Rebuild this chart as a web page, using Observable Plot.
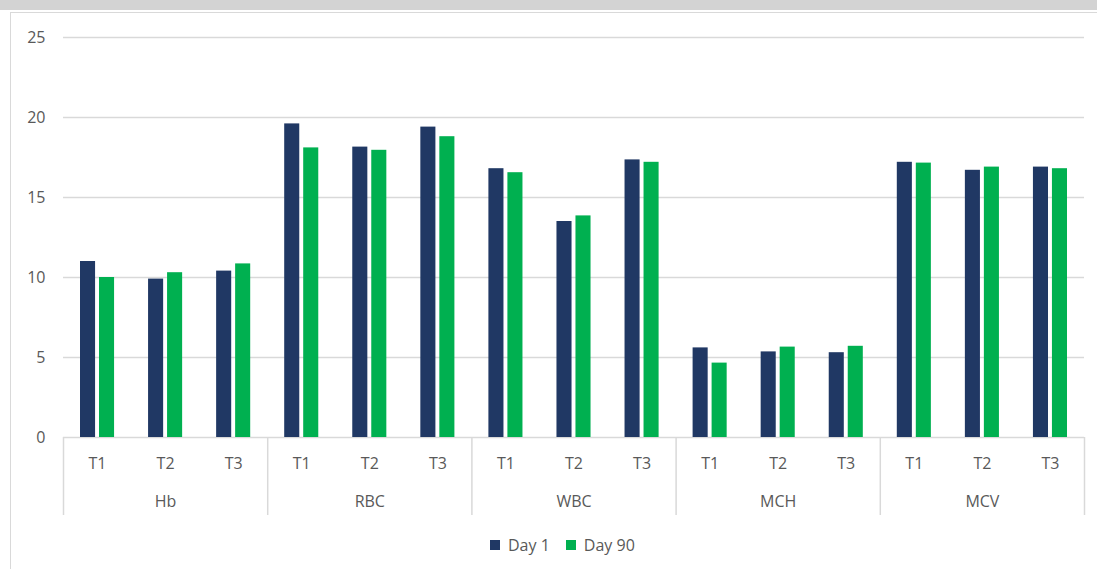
<!DOCTYPE html>
<html>
<head>
<meta charset="utf-8">
<script src="https://cdn.jsdelivr.net/npm/d3@7"></script>
<script src="https://cdn.jsdelivr.net/npm/@observablehq/plot@0.6"></script>
<style>
  html, body { margin: 0; padding: 0; background: #fff; width: 1097px; height: 569px; overflow: hidden; }
  body { position: relative; font-family: "Open Sans", sans-serif; }
  #band { position: absolute; left: 0; top: 0; width: 1097px; height: 10px; background: #d3d3d3; }
  #frame { position: absolute; left: 10px; top: 12px; width: 1100px; height: 600px; border-left: 1.5px solid #d9d9d9; border-top: 1.5px solid #d9d9d9; }
  #chart { position: absolute; left: 0; top: 0; }
  #legend { position: absolute; left: 490px; top: 528px; }
</style>
</head>
<body>
<div id="band"></div>
<div id="frame"></div>
<div id="chart"></div>
<div id="legend"></div>
<script>
// Data
const params = ["Hb", "RBC", "WBC", "MCH", "MCV"];
const times = ["T1", "T2", "T3"];
const seriesNames = ["Day 1", "Day 90"];
const day1 = [11.0, 9.9, 10.4, 19.6, 18.15, 19.4, 16.8, 13.5, 17.35, 5.6, 5.35, 5.3, 17.2, 16.7, 16.9];
const day90 = [10.0, 10.3, 10.85, 18.1, 17.95, 18.8, 16.55, 13.85, 17.2, 4.65, 5.65, 5.7, 17.15, 16.9, 16.8];
const yTicks = [0, 5, 10, 15, 20, 25];
const colors = ["#203864", "#00B050"];

// Build rows
const cells = [];
params.forEach((p, pi) => times.forEach((t, ti) => cells.push({param: p, time: t, i: pi * times.length + ti})));
const rows1 = cells.map(c => ({...c, series: seriesNames[0], value: day1[c.i]}));
const rows90 = cells.map(c => ({...c, series: seriesNames[1], value: day90[c.i]}));
const groups = params.map((p, pi) => ({param: p, mid: pi * times.length + times.length / 2}));
const separators = d3.range(0, params.length + 1).map(k => k * times.length);

const textColor = "#595959";
const gridColor = "#d9d9d9";
const yRange = [437, 37];

const chart = Plot.plot({
  width: 1097,
  height: 530,
  marginLeft: 63,
  marginRight: 13,
  marginTop: 37,
  marginBottom: 15,
  style: {fontFamily: "Open Sans, sans-serif", fontSize: "16px", color: textColor, background: "transparent", overflow: "visible"},
  x: {domain: [0, cells.length], axis: null},
  y: {domain: [0, 25], range: yRange, ticks: yTicks, tickSize: 0, tickPadding: 18, label: null},
  color: {domain: seriesNames, range: colors},
  marks: [
    Plot.ruleY(yTicks, {stroke: gridColor, strokeWidth: 1.5}),
    Plot.ruleX(separators, {stroke: gridColor, strokeWidth: 1.5, insetTop: yRange[0] - yRange[1]}),
    Plot.rect(rows1, {x1: "i", x2: d => d.i + 1, y1: 0, y2: "value", fill: "series", insetLeft: 17, insetRight: 36}),
    Plot.rect(rows90, {x1: "i", x2: d => d.i + 1, y1: 0, y2: "value", fill: "series", insetLeft: 36, insetRight: 17}),
    Plot.text(cells, {x: d => d.i + 0.5, y: 0, text: "time", dy: 26, fill: textColor, fontSize: 16}),
    Plot.text(groups, {x: "mid", y: 0, text: "param", dy: 64, fill: textColor, fontSize: 16})
  ]
});
document.getElementById("chart").appendChild(chart);

const legend = Plot.legend({
  color: {domain: seriesNames, range: colors},
  swatchSize: 10,
  style: {fontFamily: "Open Sans, sans-serif", fontSize: "16px", color: textColor, background: "transparent"}
});
document.getElementById("legend").appendChild(legend);
</script>
</body>
</html>
